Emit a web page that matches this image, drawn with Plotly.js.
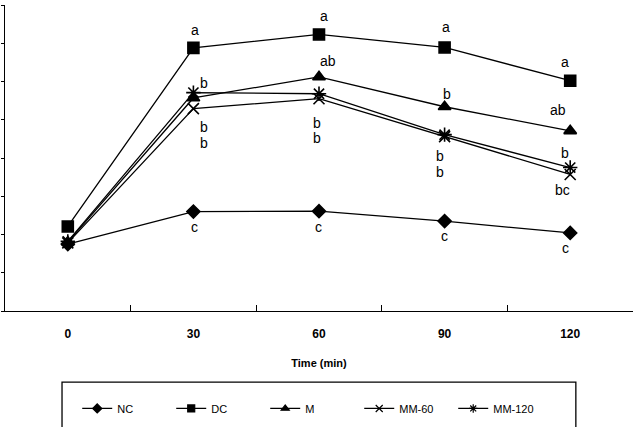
<!DOCTYPE html>
<html>
<head>
<meta charset="utf-8">
<script src="https://cdn.plot.ly/plotly-3.0.1.min.js"></script>
<style>
  html, body { margin: 0; padding: 0; background: #fff; }
  #chart { width: 644px; height: 427px; }
</style>
</head>
<body>
<div id="chart"></div>
<script>
// Sampling times (min)
const times = ['0', '30', '60', '90', '120'];

// Group means at each time point
const seriesNames = ['NC', 'DC', 'M', 'MM-60', 'MM-120'];
const nc    = [1.75, 2.60, 2.61, 2.35, 2.04];
const dc    = [2.21, 6.88, 7.23, 6.89, 6.02];
const m     = [1.80, 5.57, 6.12, 5.34, 4.71];
const mm60  = [1.78, 5.29, 5.55, 4.56, 3.57];
const mm120 = [1.82, 5.71, 5.68, 4.61, 3.75];

// Significance letters per group and time point
const ncLetters    = ['', 'c', 'c', 'c', 'c'];
const dcLetters    = ['', 'a', 'a', 'a', 'a'];
const mLetters     = ['', 'b', 'ab', 'b', 'ab'];
const mm60Letters  = ['', 'b', 'b', 'b', 'bc'];
const mm120Letters = ['', 'b', 'b', 'b', 'b'];

// Letter placement (pixel offsets from each point)
const letterOffsets = {
  'NC':     [null, [1, -15], [-1, -16], [0, -15], [-5, -15]],
  'DC':     [null, [2, 18], [5, 18], [1, 20], [-5, 19]],
  'M':      [null, [11, 15], [9, 16], [2, 13], [-12, 21]],
  'MM-60':  [null, [11, -18], [-2, -24], [-5, -19], [-8, -16]],
  'MM-120': [null, [11, -50], [-2, -44], [-5, -37], [-5, 15]]
};

const values  = [nc, dc, m, mm60, mm120];
const letters = [ncLetters, dcLetters, mLetters, mm60Letters, mm120Letters];
const symbols = ['diamond', 'square', 'triangle-up', 'x-thin-open', 'asterisk-open'];
const sizes   = [10, 11, 11, 11, 12];

const traces = [];
seriesNames.forEach((name, i) => {
  traces.push({
    type: 'scatter', mode: 'lines+markers', name: name,
    x: times, y: values[i], showlegend: false, cliponaxis: false,
    line: { color: '#000', width: 1.3 },
    marker: { symbol: symbols[i], size: sizes[i], color: '#000',
              line: { color: '#000', width: 1.6 } }
  });
});
// Legend entries with compact markers
seriesNames.forEach((name, i) => {
  traces.push({
    type: 'scatter', mode: 'lines+markers', name: name,
    x: [null], y: [null], showlegend: true,
    line: { color: '#000', width: 1.2 },
    marker: { symbol: symbols[i], size: 7, color: '#000',
              line: { color: '#000', width: 1.2 } }
  });
});

// Category axes place annotations by category index
const annotations = [];
seriesNames.forEach((name, i) => {
  letters[i].forEach((txt, k) => {
    if (!txt) return;
    const off = letterOffsets[name][k];
    annotations.push({
      x: k, y: values[i][k], xref: 'x', yref: 'y',
      text: txt, showarrow: false,
      xshift: off[0], yshift: off[1],
      font: { family: 'Liberation Sans, Arial, sans-serif', size: 14, color: '#000' }
    });
  });
});

const labelFont = 'Liberation Sans, Arial, sans-serif';

const layout = {
  width: 644, height: 427,
  margin: { l: 5, r: 11, t: 5, b: 115 },
  paper_bgcolor: '#fff', plot_bgcolor: '#fff',
  showlegend: true,
  xaxis: {
    type: 'category', range: [-0.5, 4.5],
    tickson: 'boundaries', ticks: 'inside', ticklen: 6, tickcolor: '#000',
    showline: true, linecolor: '#000', linewidth: 1.3,
    showgrid: false, zeroline: false,
    ticklabelstandoff: 11,
    tickfont: { family: labelFont, size: 12, color: '#000', weight: 'bold' },
    title: { text: 'Time (min)', standoff: 19,
             font: { family: labelFont, size: 11, color: '#000', weight: 'bold' } }
  },
  yaxis: {
    range: [0, 8], dtick: 1, ticks: 'outside', ticklen: 3, tickcolor: '#000',
    showticklabels: false, showline: true, linecolor: '#000', linewidth: 1.3,
    showgrid: false, zeroline: false
  },
  legend: {
    orientation: 'h', x: 0.115, xanchor: 'left', y: -0.267, yanchor: 'top',
    entrywidth: 49, itemwidth: 30, bgcolor: 'rgba(0,0,0,0)', borderwidth: 0,
    font: { family: labelFont, size: 11, color: '#000' }
  },
  shapes: [{
    type: 'rect', xref: 'paper', yref: 'paper',
    x0: 0.0908, x1: 0.909, y0: -0.2325, y1: -0.45,
    line: { color: '#000', width: 1.3 }, fillcolor: 'rgba(0,0,0,0)'
  }],
  annotations: annotations
};

Plotly.newPlot('chart', traces, layout, { staticPlot: true, displayModeBar: false });
</script>
</body>
</html>
